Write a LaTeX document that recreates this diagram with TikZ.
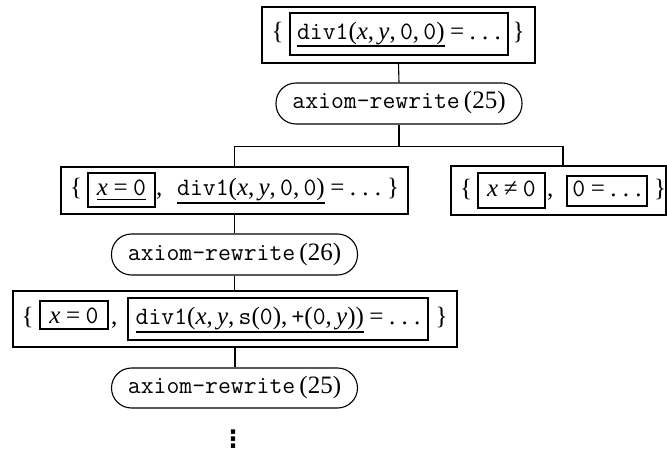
\documentclass[tikz,border=0pt]{standalone}
\usepackage{fontspec}
\setmainfont{Liberation Serif}
\newfontfamily\dejavu{DejaVu Sans}
\newcommand{\vx}{\textit{x}}
\newcommand{\vy}{\textit{y}}
\newcommand{\eqs}{\hspace{0.22em}=\hspace{0.22em}}
\newcommand{\neqs}{\hspace{0.22em}≠\hspace{0.22em}}
\newcommand{\cm}{,\hspace{0.17em}}
\newcommand{\dts}{.\hspace{0.25em}.\hspace{0.25em}.}
\newcommand{\ulthin}[1]{\setbox0\hbox{#1}\rlap{\rule[-4.5pt]{\wd0}{0.9pt}}\box0}
\newcommand{\ulthick}[1]{\setbox0\hbox{#1}\rlap{\rule[-8pt]{\wd0}{2pt}}\box0}
\tikzset{
  base/.style={font=\fontsize{25}{30}\selectfont, inner sep=0pt, text height=17pt, text depth=6pt},
  frame/.style={base, draw, line width=1.1pt},
  ax/.style={base, draw, line width=1.1pt, rounded corners=20pt, minimum width=246pt, minimum height=41pt},
  txt/.style={base, anchor=base},
  txtw/.style={base, anchor=base west},
  conn/.style={line width=1.1pt},
}
\begin{document}
\begin{tikzpicture}[x=1pt,y=-1pt]
\useasboundingbox (0,0) rectangle (667,452);
% top
\node[frame, minimum width=273pt, minimum height=56pt] (top) at (398.5,35) {};
\node[frame, minimum width=218pt, minimum height=42pt] (topin) at (399,34)
  {\ulthick{\texttt{div1}(\vx\cm\vy\cm\texttt{0}\cm\texttt{0})}\eqs\dts};
\node[txt] (tl) at (277.5,39.5) {\{};
\node[txt] (tr) at (518.5,39.5) {\}};
% axiom 1
\node[ax] (ax1) at (399,103.5) {\texttt{axiom-rewrite}\,(25)};
% left row 2
\node[frame, minimum width=347pt, minimum height=47pt] (left2) at (234.5,190.5) {};
\node[txt] (l2l) at (76,195.5) {\{};
\node[frame, minimum width=67pt, minimum height=34pt] (l2a) at (121.5,190) {\ulthin{\vx\eqs\texttt{0}}};
\node[txtw] (l2c) at (156,195.5) {,};
\node[txtw] (l2b) at (177,195.5) {\ulthick{\texttt{div1}(\vx\cm\vy\cm\texttt{0}\cm\texttt{0})}\eqs\dts};
\node[txt] (l2r) at (393,195.5) {\}};
% right row 2
\node[frame, minimum width=215pt, minimum height=49pt] (right2) at (558.5,190.5) {};
\node[txt] (r2l) at (466,196) {\{};
\node[frame, minimum width=67pt, minimum height=35pt] (r2a) at (511.5,190.5) {\vx\neqs\texttt{0}};
\node[txtw] (r2c) at (547,196) {,};
\node[frame, minimum width=80pt, minimum height=30pt] (r2b) at (607,191) {\texttt{0}\eqs\dts};
\node[txt] (r2r) at (660,196) {\}};
% axiom 2
\node[ax] (ax2) at (234.5,254.5) {\texttt{axiom-rewrite}\,(26)};
% row 3
\node[frame, minimum width=444pt, minimum height=56pt] (box3) at (235,319) {};
\node[txt] (b3l) at (27.5,324) {\{};
\node[frame, minimum width=68pt, minimum height=28pt, text depth=0pt] (b3a) at (74,315) {\vx\eqs\texttt{0}};
\node[txtw] (b3c) at (111,324) {,};
\node[frame, minimum width=300pt, minimum height=42pt] (b3b) at (278,319)
  {\ulthick{\texttt{div1}(\vx\cm\vy\cm\texttt{s}(\texttt{0})\cm\texttt{+}(\texttt{0}\cm\vy))}\eqs\dts};
\node[txt] (b3r) at (441.5,324) {\}};
% axiom 3
\node[ax, minimum height=40pt] (ax3) at (234.5,388) {\texttt{axiom-rewrite}\,(25)};
\node[font=\fontsize{24}{26}\dejavu\bfseries, inner sep=0pt] (dots) at (233,439) {⋮};
% connectors
\coordinate (bar) at (399,146.5);
\draw[conn] (top.south) -- (ax1.north);
\draw[conn] (ax1.south) -- (bar);
\draw[conn] (bar) -| (left2.north);
\draw[conn] (bar) -| ([xshift=4.5pt]right2.north);
\draw[conn] (left2.south) -- (ax2.north);
\draw[conn] (ax2.south) -- (ax2.south |- box3.north);
\draw[conn] (box3.south) -- (box3.south |- ax3.north);
\end{tikzpicture}
\end{document}
